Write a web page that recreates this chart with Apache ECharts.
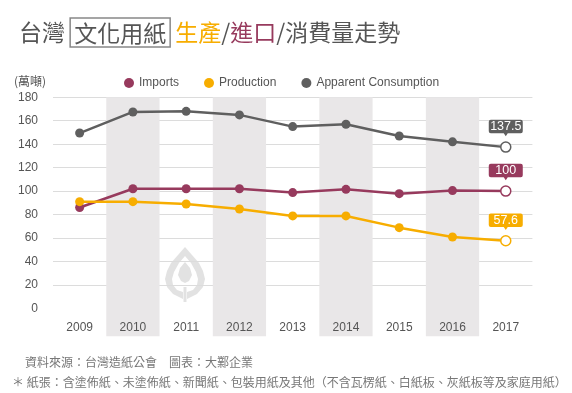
<!DOCTYPE html>
<html><head><meta charset="utf-8">
<script src="https://cdn.jsdelivr.net/npm/echarts@6/dist/echarts.min.js"></script>
<style>html,body{margin:0;padding:0;background:#fff}#c{width:572px;height:393px}</style>
</head><body><div id="c"></div>
<script>
const years = ['2009','2010','2011','2012','2013','2014','2015','2016','2017'];
const imports = [86, 102, 102, 102, 98.7, 101.5, 97.8, 100.4, 100];
const production = [91, 91, 89, 84.7, 78.8, 78.8, 68.8, 60.8, 57.6];
const consumption = [149.5, 167.5, 168, 165, 155, 157, 147, 142, 137.5];
const yMin = 0, yMax = 180, yStep = 20;

const FONT = "'Liberation Sans','Noto Sans CJK TC',sans-serif";
const CJK = "'Noto Sans CJK TC',sans-serif";
const C_IMP = '#973a5d', C_PRO = '#f7ad00', C_CON = '#5f5f5f';
const bubble = 'path://M2,0 H32 Q34,0 34,2 V11.5 Q34,13.5 32,13.5 H19 L17,16.5 L15,13.5 H2 Q0,13.5 0,11.5 V2 Q0,0 2,0 Z';

function mkSeries(name, arr, color) {
  const last = arr.length - 1;
  return {
    name, type: 'line', xAxisIndex: 0, yAxisIndex: 0, color,
    symbol: 'circle', symbolSize: 9,
    lineStyle: { width: 2.5, color },
    itemStyle: { color },
    z: 5,
    data: arr.map((v, i) => i === last
      ? { value: v, symbolSize: 10, itemStyle: { color: '#fff', borderColor: color, borderWidth: 1.5 } }
      : v),
    markPoint: {
      symbol: bubble, symbolSize: [34, 16.5], symbolOffset: [0, -19],
      itemStyle: { color },
      label: { show: true, position: 'inside', color: '#fff', fontSize: 12.5, fontFamily: FONT, offset: [0, -1.5], formatter: '{c}' },
      data: [{ coord: [last, arr[last]], value: arr[last] }]
    }
  };
}

const leftHalf = [[20,0],[13,8],[6,16],[2,24],[0,32],[2,40],[8,47],[18,52],[18,45],[12,43],[8,38],[7,32],[9,25],[14,16],[20,9]];
const rightHalf = leftHalf.map(p => [40 - p[0], p[1]]);
const blob = [[20,15],[25,21],[27,28],[24,34],[20,36],[16,34],[13,28],[15,21]];

const chart = echarts.init(document.getElementById('c'));
chart.setOption({
  animation: false,
  backgroundColor: '#fff',
  title: [
    {
      left: 14, top: 13,
      text: '台灣 {b|文化用紙} {o|生產}/{m|進口}/消費量走勢',
      textStyle: {
        fontFamily: CJK, fontSize: 23, fontWeight: 'normal', color: '#555',
        rich: {
          b: { fontFamily: CJK, fontSize: 23, fontWeight: 'normal', color: '#555', borderColor: '#888', borderWidth: 1.5, padding: [4, 4, 2, 4] },
          o: { fontFamily: CJK, fontSize: 23, fontWeight: 'normal', color: '#f7ad00' },
          m: { fontFamily: CJK, fontSize: 23, fontWeight: 'normal', color: '#973a5d' }
        }
      }
    },
    { left: 9, top: 70, text: '(萬噸)', textStyle: { fontFamily: CJK, fontSize: 12, fontWeight: 'normal', color: '#555' } },
    { left: 20, top: 351, text: '資料來源：台灣造紙公會　圖表：大鄴企業', textStyle: { fontFamily: CJK, fontSize: 12, fontWeight: 'normal', color: '#777' } },
    { left: 7, top: 371, text: '＊ 紙張：含塗佈紙、未塗佈紙、新聞紙、包裝用紙及其他（不含瓦楞紙、白紙板、灰紙板等及家庭用紙）', textStyle: { fontFamily: CJK, fontSize: 12, fontWeight: 'normal', color: '#777' } }
  ],
  legend: {
    left: 119, top: 72, itemWidth: 10, itemHeight: 10, itemGap: 25, icon: 'circle',
    textStyle: { fontFamily: FONT, fontSize: 12, color: '#555' },
    data: ['Imports', 'Production', 'Apparent Consumption']
  },
  graphic: [{
    type: 'group', left: 165, top: 247, z: 1,
    children: [
      { type: 'polygon', shape: { points: leftHalf }, style: { fill: '#e2e2e2' } },
      { type: 'polygon', shape: { points: rightHalf }, style: { fill: '#e2e2e2' } },
      { type: 'polygon', shape: { points: blob }, style: { fill: '#e2e2e2' } },
      { type: 'rect', shape: { x: 18.5, y: 40, width: 3, height: 15 }, style: { fill: '#e2e2e2' } }
    ]
  }],
  grid: [
    { left: 53, width: 479.4, top: 97.3, height: 211 },
    { left: 53, width: 479.4, top: 97.3, height: 239 }
  ],
  xAxis: [
    { type: 'category', gridIndex: 0, data: years, boundaryGap: true,
      axisLine: { show: false }, axisTick: { show: false },
      axisLabel: { margin: 13, fontFamily: FONT, fontSize: 12, color: '#555' } },
    { type: 'category', gridIndex: 1, data: years, boundaryGap: true,
      axisLine: { show: false }, axisTick: { show: false }, axisLabel: { show: false },
      splitArea: { show: true, areaStyle: { color: ['rgba(0,0,0,0)', '#e9e7e8'] } } }
  ],
  yAxis: [
    { type: 'value', gridIndex: 0, min: yMin, max: yMax, interval: yStep,
      axisLine: { show: false }, axisTick: { show: false },
      axisLabel: { margin: 15, fontFamily: FONT, fontSize: 12, color: '#555' },
      splitLine: { show: true, showMinLine: false, lineStyle: { color: '#dcdcdc', width: 1 } } },
    { type: 'value', gridIndex: 1, min: 0, max: 1, show: false, splitLine: { show: false } }
  ],
  series: [
    mkSeries('Imports', imports, C_IMP),
    mkSeries('Production', production, C_PRO),
    mkSeries('Apparent Consumption', consumption, C_CON)
  ]
});
</script>
</body></html>
